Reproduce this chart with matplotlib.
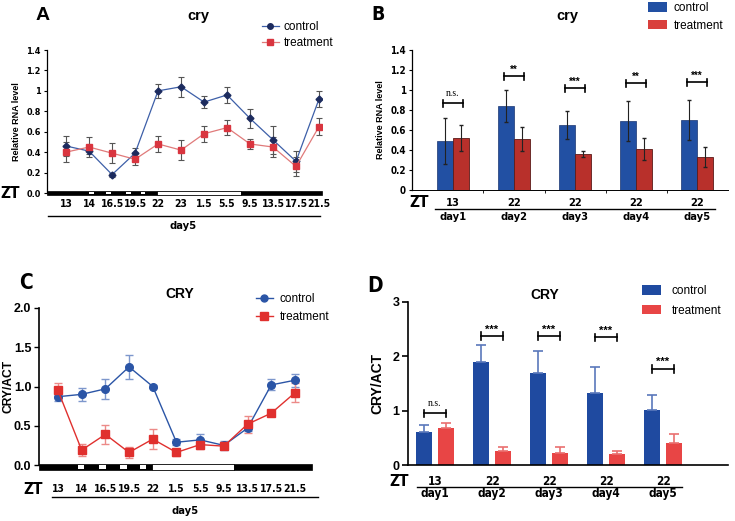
#Recreate the four-panel cry / CRY figure
import numpy as np
import matplotlib
matplotlib.use('Agg')
import matplotlib.pyplot as plt
from matplotlib import font_manager
from matplotlib.lines import Line2D
from matplotlib.patches import Rectangle, Patch
from matplotlib.transforms import blended_transform_factory

# ---- data ----
# A: relative RNA level, day5 time course
zt_a = ['13', '14', '16.5', '19.5', '22', '23', '1.5', '5.5', '9.5', '13.5', '17.5', '21.5']
ctrl_a = [0.46, 0.41, 0.18, 0.39, 1.00, 1.04, 0.89, 0.96, 0.73, 0.52, 0.31, 0.92]
ctrl_a_err = [0.10, 0.03, 0.02, 0.05, 0.07, 0.10, 0.06, 0.08, 0.09, 0.14, 0.10, 0.08]
trt_a = [0.40, 0.45, 0.39, 0.33, 0.48, 0.42, 0.58, 0.64, 0.48, 0.45, 0.26, 0.65]
trt_a_err = [0.10, 0.10, 0.10, 0.06, 0.08, 0.10, 0.08, 0.07, 0.05, 0.10, 0.09, 0.08]

# B: relative RNA level, days 1-5
zt_b = ['13', '22', '22', '22', '22']
days = ['day1', 'day2', 'day3', 'day4', 'day5']
ctrl_b = [0.49, 0.84, 0.65, 0.69, 0.70]
ctrl_b_err = [0.23, 0.16, 0.14, 0.20, 0.20]
trt_b = [0.52, 0.51, 0.36, 0.41, 0.33]
trt_b_err = [0.13, 0.12, 0.03, 0.11, 0.10]
sig_b = ['n.s.', '**', '***', '**', '***']
sig_b_y = [0.87, 1.14, 1.02, 1.07, 1.08]

# C: CRY/ACT protein, day5 time course
zt_c = ['13', '14', '16.5', '19.5', '22', '1.5', '5.5', '9.5', '13.5', '17.5', '21.5']
ctrl_c = [0.87, 0.90, 0.97, 1.25, 1.00, 0.29, 0.32, 0.25, 0.47, 1.02, 1.08]
ctrl_c_err = [0.05, 0.08, 0.13, 0.15, 0.02, 0.04, 0.07, 0.06, 0.04, 0.07, 0.08]
trt_c = [0.95, 0.19, 0.39, 0.16, 0.33, 0.16, 0.26, 0.24, 0.52, 0.66, 0.92]
trt_c_err = [0.09, 0.08, 0.12, 0.07, 0.13, 0.04, 0.06, 0.04, 0.11, 0.02, 0.12]

# D: CRY/ACT protein, days 1-5
ctrl_d = [0.61, 1.90, 1.69, 1.32, 1.01]
ctrl_d_err = [0.13, 0.30, 0.40, 0.49, 0.28]
trt_d = [0.69, 0.25, 0.23, 0.20, 0.41]
trt_d_err = [0.09, 0.08, 0.10, 0.06, 0.16]
sig_d = ['n.s.', '***', '***', '***', '***']
sig_d_y = [0.95, 2.37, 2.37, 2.35, 1.77]

W, H = 735, 521
fig = plt.figure(figsize=(W / 100, H / 100), dpi=100)
plt.rcParams['font.family'] = ['Liberation Sans', 'DejaVu Sans']

names = {f.name for f in font_manager.fontManager.ttflist}
if 'Liberation Sans Narrow' in names:
    COND = dict(family='Liberation Sans Narrow', fontweight='bold')
else:
    COND = dict(family='DejaVu Sans', fontstretch='condensed', fontweight='bold')
SERIF = dict(family=['Liberation Serif', 'DejaVu Serif'])


def fx(x):
    return x / W


def fy(y):
    return 1 - y / H


def ftext(x, y, s, **kw):
    fig.text(fx(x), fy(y), s, ha='center', va='center', **kw)


def fline(x1, x2, y, lw=1.0):
    fig.add_artist(Line2D([fx(x1), fx(x2)], [fy(y), fy(y)], color='black', lw=lw))


def light_bar(ax, y0, h, dark_end, light_end, squares, sq_w, sq_h):
    t = ax.transAxes
    ax.add_patch(Rectangle((0, y0), dark_end, h, transform=t, fc='black', ec='black', lw=0.5, clip_on=False))
    ax.add_patch(Rectangle((dark_end, y0), light_end - dark_end, h, transform=t, fc='white', ec='black', lw=0.6, clip_on=False))
    ax.add_patch(Rectangle((light_end, y0), 1 - light_end, h, transform=t, fc='black', ec='black', lw=0.5, clip_on=False))
    for c in squares:
        ax.add_patch(Rectangle((c - sq_w / 2, y0 + (h - sq_h) / 2), sq_w, sq_h, transform=t, fc='white', ec='none', clip_on=False))


def brackets(ax, xs, ys, labels, half, dy, tick, fs_star):
    for x, y, lab in zip(xs, ys, labels):
        ax.plot([x - half, x + half], [y, y], color='black', lw=1.2, clip_on=False)
        ax.plot([x - half, x - half], [y - tick, y + tick], color='black', lw=1.2, clip_on=False)
        ax.plot([x + half, x + half], [y - tick, y + tick], color='black', lw=1.2, clip_on=False)
        if lab == 'n.s.':
            ax.text(x, y + dy, lab, ha='center', va='bottom', fontsize=7, **SERIF)
        else:
            ax.text(x, y + dy * 0.3, lab, ha='center', va='bottom', fontsize=fs_star, fontweight='bold')


# ---------------- A ----------------
axA = fig.add_axes([fx(47), fy(193), 275 / W, 143 / H])
xa = np.arange(len(zt_a))
axA.errorbar(xa, ctrl_a, yerr=ctrl_a_err, color='#3d5fa8', lw=0.9, marker='D', ms=3.5,
             mfc='#1c2b5e', mec='#1c2b5e', ecolor='#555555', elinewidth=0.8, capsize=2.5, capthick=0.8)
axA.errorbar(xa, trt_a, yerr=trt_a_err, color='#e07a7a', lw=0.9, marker='s', ms=4.5,
             mfc='#d9353f', mec='#d9353f', ecolor='#555555', elinewidth=0.8, capsize=2.5, capthick=0.8)
axA.set_xlim(-0.83, 11.13)
axA.set_ylim(0, 1.4)
axA.set_yticks(np.arange(0, 1.41, 0.2))
axA.set_yticklabels(['0.0', '0.2', '0.4', '0.6', '0.8', '1', '1.2', '1.4'], fontsize=6.5, **COND)
axA.set_xticks(xa)
axA.set_xticklabels(zt_a, fontsize=7.5, **COND)
axA.tick_params(axis='x', length=0, pad=4)
axA.tick_params(axis='y', length=2.5, width=0.8, pad=2)
for s in ['top', 'right', 'bottom']:
    axA.spines[s].set_visible(False)
axA.spines['left'].set_linewidth(0.9)
axA.set_ylabel('Relative RNA level', fontsize=6.5, fontweight='bold', labelpad=4)
light_bar(axA, -0.015, 0.03, 0.40, 0.705, [0.162, 0.224, 0.295, 0.349], 0.018, 0.02)
fline(48, 320, 216)
ftext(183, 226, 'day5', fontsize=8, **COND)
ftext(10, 193, 'ZT', fontsize=11, **COND)
ftext(43, 15, 'A', fontsize=14, fontweight='bold')
ftext(198, 16, 'cry', fontsize=10.5, fontweight='bold')
hA = [Line2D([], [], color='#3d5fa8', lw=0.9, marker='o', ms=4, mfc='#1c2b5e', mec='#1c2b5e'),
      Line2D([], [], color='#e07a7a', lw=0.9, marker='s', ms=4.5, mfc='#d9353f', mec='#d9353f')]
axA.legend(hA, ['control', 'treatment'], loc='center left', bbox_to_anchor=(fx(262), fy(35)),
           bbox_transform=fig.transFigure, frameon=False, fontsize=8.5, handlelength=1.4,
           handletextpad=0.45, labelspacing=0.35, borderpad=0, borderaxespad=0)

# ---------------- B ----------------
axB = fig.add_axes([fx(412), fy(190), 316 / W, 140 / H])
xb = np.arange(len(days))
bw = 0.27
axB.bar(xb - bw / 2, ctrl_b, bw, color='#2250a3', ec='#1a3570', lw=0.5)
axB.bar(xb + bw / 2, trt_b, bw, color='#b8302b', ec='#5a1a18', lw=0.6)
axB.errorbar(xb - bw / 2, ctrl_b, yerr=ctrl_b_err, fmt='none', ecolor='#222222', elinewidth=0.8, capsize=1.5)
axB.errorbar(xb + bw / 2, trt_b, yerr=trt_b_err, fmt='none', ecolor='#222222', elinewidth=0.8, capsize=1.5)
brackets(axB, xb, sig_b_y, sig_b, 0.17, 0.05, 0.035, 7)
axB.set_xlim(-0.672, 4.508)
axB.set_ylim(0, 1.4)
axB.set_yticks(np.arange(0, 1.41, 0.2))
axB.set_yticklabels(['0', '0.2', '0.4', '0.6', '0.8', '1', '1.2', '1.4'], fontsize=7, **COND)
axB.set_xticks(xb)
axB.set_xticklabels(zt_b, fontsize=8, **COND)
axB.set_xticks(xb[:-1] + 0.5, minor=True)
axB.tick_params(axis='x', which='major', length=0, pad=6)
axB.tick_params(axis='x', which='minor', length=2.5, width=0.6)
axB.tick_params(axis='y', length=2.5, width=0.8, pad=2)
for s in ['top', 'right']:
    axB.spines[s].set_visible(False)
axB.spines['left'].set_linewidth(0.9)
axB.spines['bottom'].set_linewidth(0.7)
axB.set_ylabel('Relative RNA level', fontsize=6.5, fontweight='bold', labelpad=4)
tb = blended_transform_factory(axB.transData, fig.transFigure)
for i, d in enumerate(days):
    axB.text(xb[i], fy(217), d, transform=tb, ha='center', va='center', fontsize=8, **COND)
fline(435, 715, 209)
ftext(419, 203, 'ZT', fontsize=11, **COND)
ftext(378, 15, 'B', fontsize=14, **COND)
ftext(567, 16, 'cry', fontsize=10.5, fontweight='bold')
hB = [Patch(fc='#2250a3', ec='none'), Patch(fc='#d9403c', ec='none')]
axB.legend(hB, ['control', 'treatment'], loc='center left', bbox_to_anchor=(fx(648), fy(17)),
           bbox_transform=fig.transFigure, frameon=False, fontsize=8.5, handlelength=1.6,
           handleheight=0.9, handletextpad=0.6, labelspacing=0.45, borderpad=0, borderaxespad=0)

# ---------------- C ----------------
axC = fig.add_axes([fx(39), fy(465), 273 / W, 157 / H])
xc = np.arange(len(zt_c))
axC.errorbar(xc, ctrl_c, yerr=ctrl_c_err, color='#2b55a6', lw=1.0, marker='o', ms=5.5,
             ecolor='#7d97cc', elinewidth=1.0, capsize=3, capthick=1.0)
axC.errorbar(xc, trt_c, yerr=trt_c_err, color='#e0302e', lw=1.0, marker='s', ms=6,
             ecolor='#ec8a88', elinewidth=1.0, capsize=3, capthick=1.0)
axC.set_xlim(-0.8, 10.72)
axC.set_ylim(0, 2)
axC.set_yticks([0, 0.5, 1, 1.5, 2])
axC.set_yticklabels(['0.0', '0.5', '1.0', '1.5', '2.0'], fontsize=9, fontweight='bold')
axC.set_xticks(xc)
axC.set_xticklabels(zt_c, fontsize=7.5, **COND)
axC.tick_params(axis='x', length=0, pad=14)
axC.tick_params(axis='y', length=3.5, width=1.0, pad=2)
for s in ['top', 'right', 'bottom']:
    axC.spines[s].set_visible(False)
axC.spines['left'].set_linewidth(1.2)
ftext(9, 386, 'CRY/ACT', fontsize=8.7, fontweight='bold', rotation=90)
light_bar(axC, -0.035, 0.04, 0.414, 0.714, [0.154, 0.234, 0.311, 0.381], 0.025, 0.025)
fline(52, 318, 497)
ftext(185, 511, 'day5', fontsize=8, **COND)
ftext(33, 489, 'ZT', fontsize=11, **COND)
ftext(26, 283, 'C', fontsize=15, **COND)
ftext(180, 294, 'CRY', fontsize=10, fontweight='bold')
hC = [Line2D([], [], color='#2b55a6', lw=1.0, marker='o', ms=5),
      Line2D([], [], color='#e0302e', lw=1.0, marker='s', ms=5.5)]
axC.legend(hC, ['control', 'treatment'], loc='center left', bbox_to_anchor=(fx(256), fy(308)),
           bbox_transform=fig.transFigure, frameon=False, fontsize=8.5, handlelength=1.4,
           handletextpad=0.6, labelspacing=0.45, borderpad=0, borderaxespad=0)

# ---------------- D ----------------
axD = fig.add_axes([fx(408), fy(465), 320 / W, 163 / H])
xd = np.arange(len(days))
dw = 0.28
off = 0.185
zeros = [0] * len(days)
axD.bar(xd - off, ctrl_d, dw, color='#1f4aa0')
axD.bar(xd + off, trt_d, dw, color='#e84545')
axD.errorbar(xd - off, ctrl_d, yerr=[zeros, ctrl_d_err], fmt='none', ecolor='#5a78bb', elinewidth=1.2, capsize=3.5, capthick=1.2)
axD.errorbar(xd + off, trt_d, yerr=[zeros, trt_d_err], fmt='none', ecolor='#ea7070', elinewidth=1.2, capsize=3.5, capthick=1.2)
brackets(axD, xd, sig_d_y, sig_d, 0.19, 0.1, 0.07, 8)
axD.set_xlim(-0.474, 5.14)
axD.set_ylim(0, 3)
axD.set_yticks([0, 1, 2, 3])
axD.set_yticklabels(['0', '1', '2', '3'], fontsize=9, fontweight='bold')
axD.set_xticks(xd)
axD.set_xticklabels(zt_b, fontsize=8.5, **COND)
axD.tick_params(axis='x', length=0, pad=7)
axD.tick_params(axis='y', length=4, width=1.2, pad=2)
for s in ['top', 'right']:
    axD.spines[s].set_visible(False)
axD.spines['left'].set_linewidth(1.2)
axD.spines['bottom'].set_linewidth(1.2)
axD.set_ylabel('CRY/ACT', fontsize=10, fontweight='bold', labelpad=6)
td = blended_transform_factory(axD.transData, fig.transFigure)
for i, d in enumerate(days):
    axD.text(xd[i], fy(494), d, transform=td, ha='center', va='center', fontsize=8.5, **COND)
fline(417, 682, 487)
ftext(399, 481, 'ZT', fontsize=11, **COND)
ftext(375, 286, 'D', fontsize=15, **COND)
ftext(545, 295, 'CRY', fontsize=10, fontweight='bold')
hD = [Patch(fc='#1f4aa0', ec='none'), Patch(fc='#e84545', ec='none')]
axD.legend(hD, ['control', 'treatment'], loc='center left', bbox_to_anchor=(fx(642), fy(301)),
           bbox_transform=fig.transFigure, frameon=False, fontsize=8.5, handlelength=1.6,
           handleheight=0.9, handletextpad=0.9, labelspacing=0.6, borderpad=0, borderaxespad=0)

fig.savefig('out.png', dpi=100)
